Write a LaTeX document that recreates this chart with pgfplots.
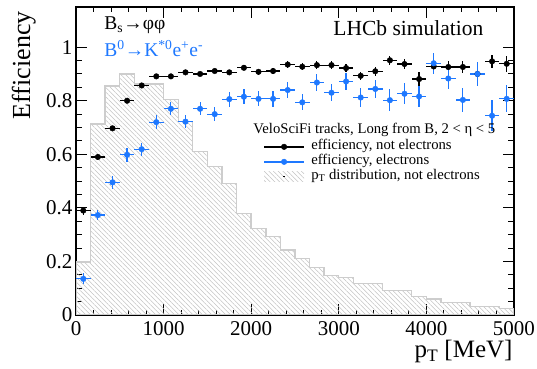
\documentclass[border=0pt]{standalone}
\usepackage{fontspec}
\setmainfont{Liberation Serif}
\usepackage{pgfplots}
\pgfplotsset{compat=1.18}
\usepackage{pgfplotstable}
\usetikzlibrary{patterns.meta}

\definecolor{eblue}{RGB}{30,120,255}
\definecolor{hgray}{RGB}{195,195,195}
\definecolor{hline}{RGB}{205,205,205}

\pgfplotstableread{
x ex y ey
83.33 83.33 0.390 0.015
250.00 83.33 0.590 0.010
416.67 83.33 0.697 0.009
583.33 83.33 0.800 0.008
750.00 83.33 0.857 0.008
916.67 83.33 0.891 0.008
1083.33 83.33 0.891 0.008
1250.00 83.33 0.906 0.008
1416.67 83.33 0.900 0.009
1583.33 83.33 0.911 0.009
1750.00 83.33 0.906 0.010
1916.67 83.33 0.923 0.010
2083.33 83.33 0.908 0.011
2250.00 83.33 0.911 0.012
2416.67 83.33 0.935 0.012
2583.33 83.33 0.927 0.013
2750.00 83.33 0.933 0.014
2916.67 83.33 0.933 0.014
3083.33 83.33 0.922 0.015
3250.00 83.33 0.893 0.016
3416.67 83.33 0.910 0.017
3583.33 83.33 0.951 0.016
3750.00 83.33 0.937 0.018
3916.67 83.33 0.881 0.025
4083.33 83.33 0.928 0.022
4250.00 83.33 0.926 0.022
4416.67 83.33 0.926 0.024
4583.33 83.33 0.900 0.028
4750.00 83.33 0.947 0.025
4916.67 83.33 0.938 0.030
}\blacktab

\pgfplotstableread{
x ex y ey
83.33 83.33 0.135 0.020
250.00 83.33 0.373 0.020
416.67 83.33 0.495 0.025
583.33 83.33 0.598 0.025
750.00 83.33 0.619 0.025
916.67 83.33 0.720 0.025
1083.33 83.33 0.770 0.025
1250.00 83.33 0.722 0.025
1416.67 83.33 0.770 0.025
1583.33 83.33 0.750 0.025
1750.00 83.33 0.806 0.028
1916.67 83.33 0.815 0.028
2083.33 83.33 0.807 0.028
2250.00 83.33 0.807 0.030
2416.67 83.33 0.840 0.030
2583.33 83.33 0.794 0.030
2750.00 83.33 0.868 0.030
2916.67 83.33 0.830 0.032
3083.33 83.33 0.872 0.032
3250.00 83.33 0.812 0.035
3416.67 83.33 0.844 0.035
3583.33 83.33 0.802 0.040
3750.00 83.33 0.826 0.040
3916.67 83.33 0.816 0.040
4083.33 83.33 0.940 0.040
4250.00 83.33 0.883 0.040
4416.67 83.33 0.803 0.045
4583.33 83.33 0.900 0.045
4750.00 83.33 0.744 0.058
4916.67 83.33 0.807 0.050
}\bluetab

\pgfplotstableread{
x h
0.00 0.198
166.67 0.713
333.33 0.855
500.00 0.900
666.67 0.862
833.33 0.862
1000.00 0.804
1166.67 0.723
1333.33 0.610
1500.00 0.554
1666.67 0.492
1833.33 0.380
2000.00 0.324
2166.67 0.293
2333.33 0.243
2500.00 0.210
2666.67 0.178
2833.33 0.147
3000.00 0.141
3166.67 0.118
3333.33 0.118
3500.00 0.091
3666.67 0.091
3833.33 0.068
4000.00 0.060
4166.67 0.047
4333.33 0.047
4500.00 0.031
4666.67 0.031
4833.33 0.025
5000.00 0.025
}\histtab

\begin{document}
\begin{tikzpicture}
\path[use as bounding box] (0,0) rectangle (537bp,369bp);
\begin{axis}[
  at={(76bp,54bp)}, anchor=south west,
  width=438bp, height=308bp, scale only axis,
  xmin=0, xmax=5000, ymin=0, ymax=1.15,
  xtick={0,1000,2000,3000,4000,5000},
  ytick={0,0.2,0.4,0.6,0.8,1},
  minor x tick num=4, minor y tick num=3,
  tick align=inside, xtick pos=both, ytick pos=both,
  major tick length=11bp, minor tick length=5.5bp,
  axis line style={line width=1.2bp},
  every tick/.style={black, line width=1bp},
  ticklabel style={font=\fontsize{21bp}{21bp}\selectfont},
  /pgf/number format/assume math mode=true,
  scaled x ticks=false,
  xticklabel style={/pgf/number format/1000 sep={}, yshift=-3bp},
  yticklabel style={/pgf/number format/fixed},
  xlabel={p\textsubscript{T} [MeV]},
  xlabel style={at={(axis description cs:1.0046,-0.1396)}, anchor=base east, font=\fontsize{25bp}{25bp}\selectfont},
  ylabel={Efficiency},
  ylabel style={at={(axis description cs:-0.105,0.997)}, anchor=base east, rotate=0, font=\fontsize{26bp}{26bp}\selectfont},
  legend style={at={(axis description cs:0.427,0.571)}, anchor=north west, draw=none, fill=none,
    inner sep=0pt, row sep=0pt, font=\fontsize{14.7bp}{15bp}\selectfont,
    nodes={inner xsep=4bp, inner ysep=0pt, text height=10.5bp, text depth=4.5bp}},
  legend cell align=left,
  error bars/error bar style={line width=1.2bp},
  error bars/error mark=none,
]
\addplot[const plot mark left, draw=hline, line width=1.4bp,
  pattern={Lines[angle=-45,distance=3.3bp,line width=0.55bp]}, pattern color=hgray, forget plot]
  table[x=x,y=h]{\histtab} \closedcycle;

\addplot[only marks, black, mark=*, mark size=2.8bp,
  legend image code/.code={
    \draw[black, line width=1.7bp] (0bp,0bp) -- (40bp,0bp);
    \fill[black] (20bp,0bp) circle (2.8bp);
    \path (43bp,0bp);},
  error bars/.cd, x dir=both, x explicit, y dir=both, y explicit, error bar style={black}]
  table[x=x,y=y,x error=ex,y error=ey]{\blacktab};
\addlegendentry{efficiency, not electrons}

\addplot[only marks, eblue, mark=*, mark size=2.8bp, mark options={draw=eblue, fill=eblue},
  legend image code/.code={
    \draw[eblue, line width=1.7bp] (0bp,0bp) -- (40bp,0bp);
    \fill[eblue] (20bp,0bp) circle (2.8bp);
    \path (43bp,0bp);},
  error bars/.cd, x dir=both, x explicit, y dir=both, y explicit, error bar style={eblue}]
  table[x=x,y=y,x error=ex,y error=ey]{\bluetab};
\addlegendentry{efficiency, electrons}

\addlegendimage{legend image code/.code={
  \path[draw=none, pattern={Lines[angle=-45,distance=3.3bp,line width=0.55bp]}, pattern color=hgray] (0bp,-5bp) rectangle (40bp,5bp);
  \path[draw=none, fill=black] (19.4bp,-0.6bp) rectangle (20.6bp,0.6bp);
  \path (43bp,0bp);}}
\addlegendentry{p\textsubscript{T} distribution, not electrons}

\node[anchor=base east, font=\fontsize{21.5bp}{21.5bp}\selectfont] at (axis description cs:0.938,0.909) {LHCb simulation};
\node[anchor=base west, font=\fontsize{19.5bp}{19.5bp}\selectfont] at (axis description cs:0.057,0.928) {B\textsubscript{s}→φφ};
\node[anchor=base west, text=eblue, font=\fontsize{19.5bp}{19.5bp}\selectfont] at (axis description cs:0.057,0.8386) {B\textsuperscript{0}→K\textsuperscript{*0}e\textsuperscript{+}e\textsuperscript{-}};
\node[anchor=base west, font=\fontsize{14.7bp}{15bp}\selectfont] at (axis description cs:0.397,0.5877) {VeloSciFi tracks, Long from B, 2 < η < 5};
\end{axis}
\end{tikzpicture}
\end{document}
